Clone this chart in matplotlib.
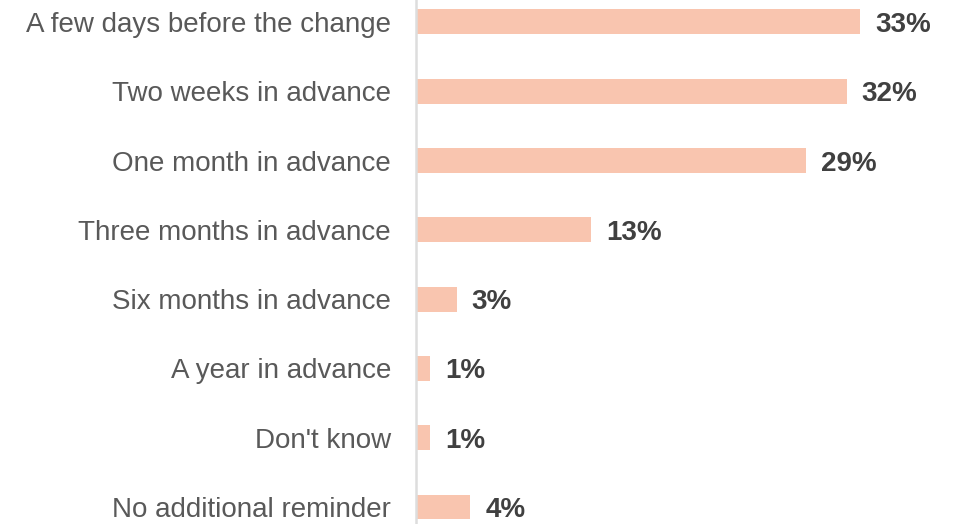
import matplotlib
matplotlib.use("Agg")
import matplotlib.pyplot as plt

categories = [
    "A few days before the change",
    "Two weeks in advance",
    "One month in advance",
    "Three months in advance",
    "Six months in advance",
    "A year in advance",
    "Don't know",
    "No additional reminder",
]
values = [33, 32, 29, 13, 3, 1, 1, 4]

bar_color = "#F9C5AF"
label_color = "#595959"
value_color = "#404040"

plt.rcParams["font.family"] = ["Liberation Sans", "DejaVu Sans"]

fig = plt.figure(figsize=(9.55, 5.24), dpi=100)
ax = fig.add_axes([0.4356, 0.0, 0.5644, 1.0])

y = list(range(len(categories)))
ax.barh(y, values, height=0.36, color=bar_color, left=0.05)

for yi, v in zip(y, values):
    ax.text(v + 1.15, yi, f"{v}%", va="center_baseline", ha="left",
            fontsize=20, fontweight="bold", color=value_color)

ax.set_xlim(0, 40.1)
ax.set_ylim(7.245, -0.317)
ax.set_yticks(y)
ax.set_yticklabels(categories, fontsize=20, color=label_color)
ax.tick_params(axis="y", length=0, pad=18)
ax.set_xticks([])

for side in ["top", "right", "bottom"]:
    ax.spines[side].set_visible(False)
ax.spines["left"].set_color("#DDDDDD")
ax.spines["left"].set_linewidth(1.8)

fig.savefig("out.png", dpi=100)
